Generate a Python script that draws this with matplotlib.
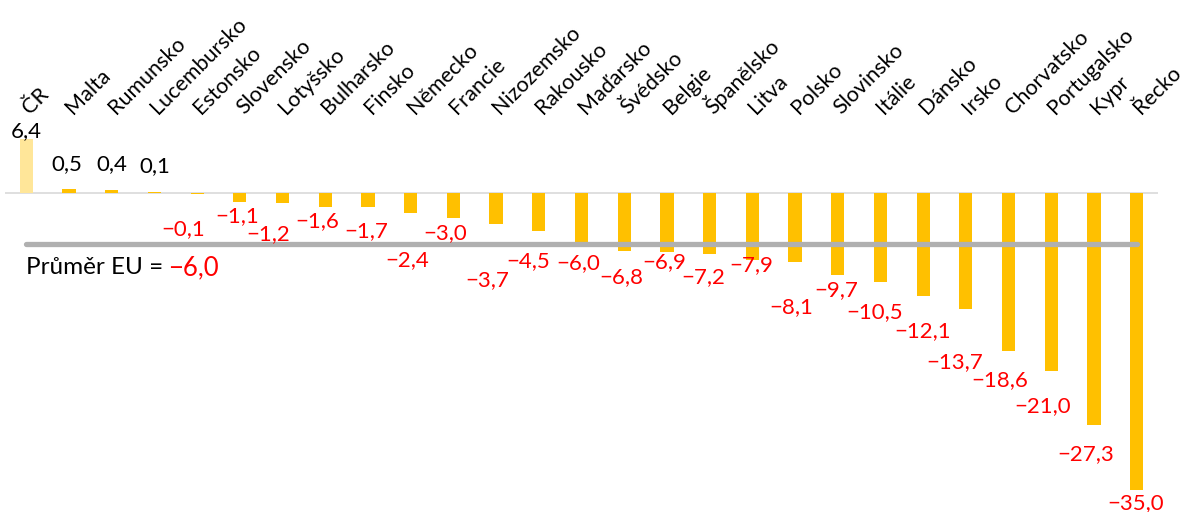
import matplotlib
matplotlib.use("Agg")
import matplotlib.pyplot as plt
import numpy as np

plt.rcParams['font.family'] = ['Lato', 'DejaVu Sans']

# Data
countries = ["ČR", "Malta", "Rumunsko", "Lucembursko", "Estonsko", "Slovensko", "Lotyšsko",
             "Bulharsko", "Finsko", "Německo", "Francie", "Nizozemsko", "Rakousko", "Maďarsko",
             "Švédsko", "Belgie", "Španělsko", "Litva", "Polsko", "Slovinsko", "Itálie",
             "Dánsko", "Irsko", "Chorvatsko", "Portugalsko", "Kypr", "Řecko"]
values = [6.4, 0.5, 0.4, 0.1, -0.1, -1.1, -1.2, -1.6, -1.7, -2.4, -3.0, -3.7, -4.5, -6.0,
          -6.8, -6.9, -7.2, -7.9, -8.1, -9.7, -10.5, -12.1, -13.7, -18.6, -21.0, -27.3, -35.0]
eu_avg = -6.0

# label offsets from bar end, in pixels (dx, dy up)
label_offsets = [(0, 8), (-2, 25), (0, 26), (0, 26), (-14, -35), (-3, -14), (-14, -31),
                 (-8, -15), (-2, -24), (-3, -47), (-8, -15), (-9, -56), (-11, -30), (-3, -19),
                 (-3, -26), (-3, -11), (-6, -23), (-1, -5), (-4, -45), (-1, -15), (-6, -30),
                 (-1, -35), (-11, -53), (-9, -29), (-9, -35), (-8, -29), (-1, -13)]


def fmt(v):
    return f"{v:.1f}".replace('.', ',').replace('-', '\u2212')


fig = plt.figure(figsize=(11.84, 5.12), dpi=100)
ax = fig.add_axes([5 / 1184, 0, 1153 / 1184, 1])
x = np.arange(len(countries))

colors = ['#FFE699'] + ['#FFC000'] * (len(countries) - 1)
ax.bar(x, values, width=0.31, color=colors, zorder=2)
ax.axhline(0, color='#D9D9D9', lw=1.2, zorder=1)
ax.plot([0, len(countries) - 1], [eu_avg, eu_avg], color='#B0B0B0', lw=3.8,
        solid_capstyle='round', zorder=3)

ax.set_xlim(-0.5, len(countries) - 0.5)
ax.set_ylim(-37.57, 22.73)
ax.axis('off')

fs = 16
for i, (v, (dx, dy)) in enumerate(zip(values, label_offsets)):
    ax.annotate(fmt(v), xy=(i, v), xytext=(dx, dy), textcoords='offset pixels',
                ha='center', va='center', fontsize=fs,
                color='black' if v > 0 else '#FF0000', zorder=4)

for i, name in enumerate(countries):
    ax.annotate(name, xy=(i, 0), xytext=(4, 78), textcoords='offset pixels',
                ha='left', va='baseline', rotation=45, rotation_mode='anchor', fontsize=15.5,
                annotation_clip=False, clip_on=False)

t = ax.annotate("Průměr EU =", xy=(0, eu_avg), xytext=(0, -24), textcoords='offset pixels',
                ha='left', va='center', fontsize=17.5)
fig.canvas.draw()
bb = t.get_window_extent()
fig.text((bb.x1 + 4) / fig.bbox.width, (bb.y0 + bb.y1) / 2 / fig.bbox.height, fmt(eu_avg),
         ha='left', va='center', fontsize=18.5, color='#FF0000')

fig.savefig("out.png", dpi=100)
